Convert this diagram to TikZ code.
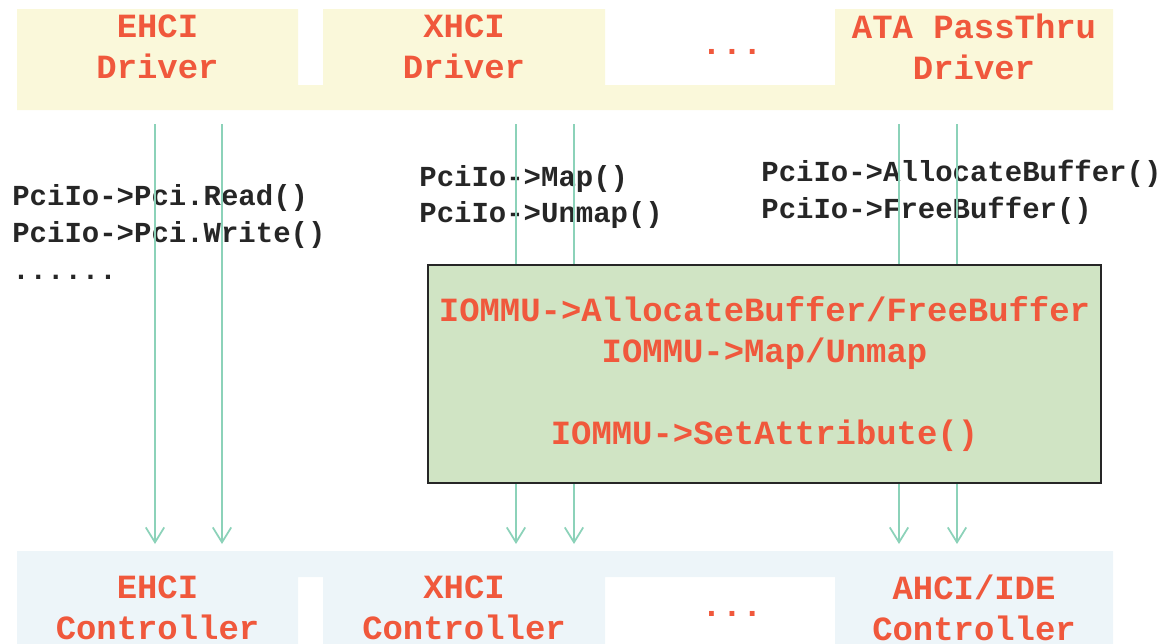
\documentclass[tikz,border=0pt]{standalone}
\usepackage{fontspec}
\setmonofont{Liberation Mono}
\definecolor{callred}{RGB}{240, 88, 60}
\definecolor{drvyellow}{RGB}{250, 248, 218}
\definecolor{ctlblue}{RGB}{237, 245, 249}
\definecolor{iommugreen}{RGB}{208, 228, 196}
\definecolor{pathgreen}{RGB}{140, 210, 185}
\usetikzlibrary{arrows.meta, positioning, calc}

\begin{document}
\begin{tikzpicture}[x=0.02cm, y=-0.02cm,
  lbl/.style={text=callred, inner sep=0pt, align=center,
              font=\ttfamily\bfseries\fontsize{19.3}{23.2}\selectfont},
  call/.style={text=black!85, inner sep=0pt, align=left, anchor=west,
               font=\ttfamily\bfseries\fontsize{16.5}{21}\selectfont},
  arr/.style={-{Straight Barb[length=8.5pt, width=10.5pt]}, line width=1pt, pathgreen}
]
  \useasboundingbox (0,0) rectangle (1165,643);
  \clip (0,0) rectangle (1165,643);

  % driver row and controller row
  \fill[drvyellow] (17,9) -| (298,85) -| (323,9) -| (605,85) -| (835,9) -| (1113,110)
    -- (17,110) -- cycle;
  \fill[ctlblue] (17,551) -- (1113,551) -- (1113,660) -- (835,660) -- (835,577)
    -- (605,577) -- (605,660) -- (323,660) -- (323,577) -- (298,577) -- (298,660)
    -- (17,660) -- cycle;

  \node[lbl] (ehcidrv) at (157.5,47) {EHCI\\Driver};
  \node[lbl] (xhcidrv) at (464,47) {XHCI\\Driver};
  \node[lbl] (moredrv) at (732,52) {...};
  \node[lbl] (atadrv) at (974,47) {ATA PassThru\\Driver};

  \node[lbl] (ehcictl) at (157.5,608) {EHCI\\Controller};
  \node[lbl] (xhcictl) at (464,608) {XHCI\\Controller};
  \node[lbl] (morectl) at (732,614) {...};
  \node[lbl] (ahcictl) at (974,608) {AHCI/IDE\\Controller};

  % PCI I/O calls
  \node[call] (pcicall) at (12,232) {PciIo->Pci.Read()\\PciIo->Pci.Write()\\......};
  \node[call] (mapcall) at (419,197) {PciIo->Map()\\PciIo->Unmap()};
  \node[call] (bufcall) at (761,192) {PciIo->AllocateBuffer()\\PciIo->FreeBuffer()};

  \coordinate (drvout) at (0,124);
  \coordinate (ctlin) at (0,544);
  \foreach \ax in {155,222,516,574,899,957}
    \draw[arr] ($(drvout)+(\ax,0)$) -- ($(ctlin)+(\ax,0)$);

  \node[lbl, fill=iommugreen, draw=black!85, line width=1.2pt,
        minimum width=13.46cm, minimum height=4.36cm] (iommu) at (764.5,374)
    {IOMMU->AllocateBuffer/FreeBuffer\\IOMMU->Map/Unmap\\[23.2pt]IOMMU->SetAttribute()};
\end{tikzpicture}
\end{document}
